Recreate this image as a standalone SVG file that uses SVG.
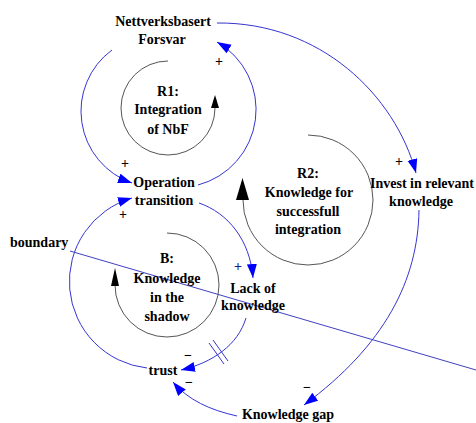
<svg xmlns="http://www.w3.org/2000/svg" width="476" height="423" viewBox="0 0 476 423">
  <style>
    .lbl { font-family: "Liberation Serif", "DejaVu Serif", serif; font-weight: bold; font-size: 14px; fill: #000; text-anchor: middle; }
    .sign { font-family: "Liberation Serif", "DejaVu Serif", serif; font-weight: bold; font-size: 14px; fill: #000; text-anchor: middle; }
    .link { fill: none; stroke: #3535d0; stroke-width: 1; marker-end: url(#arrow); }
    .loop { fill: none; stroke: #555; stroke-width: 1; }
    .head { fill: #000; }
  </style>
  <defs>
    <marker id="arrow" markerUnits="userSpaceOnUse" markerWidth="15" markerHeight="11" refX="14" refY="5" orient="auto">
      <path d="M0,0 L14,5 L0,10 z" fill="#0000ff"/>
    </marker>
  </defs>
  <rect width="476" height="423" fill="#fff"/>

  <!-- connectors -->
  <g id="connectors">
    <!-- Nettverksbasert Forsvar -> Invest in relevant knowledge -->
    <path class="link" d="M217,23 C320,22 395,95 416,173"/>
    <!-- Operation transition -> Nettverksbasert Forsvar -->
    <path class="link" d="M198,185 A78,78 0 0 0 217,42"/>
    <!-- Nettverksbasert Forsvar -> Operation transition -->
    <path class="link" d="M112,50 A76,76 0 0 0 132,183"/>
    <!-- trust -> Operation transition -->
    <path class="link" d="M147,368 A87,87 0 0 1 132,198"/>
    <!-- Operation transition -> Lack of knowledge -->
    <path class="link" d="M199,203 C228,213 250,240 253,278"/>
    <!-- Lack of knowledge -> trust (delayed) -->
    <path class="link" d="M246,318 C238,345 212,363 181,370"/>
    <!-- Knowledge gap -> trust -->
    <path class="link" d="M237,416 C210,410 188,400 173,382"/>
    <!-- Invest in relevant knowledge -> Knowledge gap -->
    <path class="link" d="M419,210 C418,280 385,345 304,405"/>
    <!-- delay marks -->
    <line x1="209" y1="343" x2="224" y2="364" stroke="#3535d0" stroke-width="1"/>
    <line x1="213" y1="340" x2="228" y2="361" stroke="#3535d0" stroke-width="1"/>
    <!-- boundary line -->
    <line x1="70" y1="251" x2="476" y2="370" stroke="#4040c0" stroke-width="1"/>
  </g>

  <!-- loop R1 -->
  <g id="loop-r1">
    <path class="loop" d="M168,61 A47,47 0 1 0 215,108"/>
    <polygon class="head" points="211,108 219,108 215,95"/>
    <text class="lbl" x="168" y="96">R1:</text>
    <text class="lbl" x="168" y="114">Integration</text>
    <text class="lbl" x="168" y="134">of NbF</text>
  </g>

  <!-- loop R2 -->
  <g id="loop-r2">
    <path class="loop" d="M308,135 A65,65 0 1 1 243,200"/>
    <polygon class="head" points="236,200 249,200 242.5,178"/>
    <text class="lbl" x="308" y="178">R2:</text>
    <text class="lbl" x="309" y="197">Knowledge for</text>
    <text class="lbl" x="308" y="216">successfull</text>
    <text class="lbl" x="308" y="234">integration</text>
  </g>

  <!-- loop B -->
  <g id="loop-b">
    <path class="loop" d="M167,233 A52,52 0 1 1 115,285"/>
    <polygon class="head" points="111,286 119,286 115,268"/>
    <text class="lbl" x="167" y="263">B:</text>
    <text class="lbl" x="167" y="283">Knowledge</text>
    <text class="lbl" x="167" y="302">in the</text>
    <text class="lbl" x="167" y="321">shadow</text>
  </g>

  <!-- variables -->
  <g id="nettverksbasert-forsvar">
    <text class="lbl" x="163" y="26">Nettverksbasert</text>
    <text class="lbl" x="162" y="44">Forsvar</text>
  </g>
  <g id="operation-transition">
    <text class="lbl" x="164" y="187">Operation</text>
    <text class="lbl" x="164" y="205">transition</text>
  </g>
  <g id="invest-in-relevant-knowledge">
    <text class="lbl" x="422" y="188">Invest in relevant</text>
    <text class="lbl" x="421" y="206">knowledge</text>
  </g>
  <g id="lack-of-knowledge">
    <text class="lbl" x="253" y="293">Lack of</text>
    <text class="lbl" x="253" y="310">knowledge</text>
  </g>
  <g id="trust">
    <text class="lbl" x="163" y="375">trust</text>
  </g>
  <g id="knowledge-gap">
    <text class="lbl" x="288" y="419">Knowledge gap</text>
  </g>
  <g id="boundary">
    <text class="lbl" x="10" y="247" style="text-anchor:start">boundary</text>
  </g>

  <!-- link polarities -->
  <g id="polarities">
    <text class="sign" x="219" y="66">+</text>
    <text class="sign" x="125" y="168">+</text>
    <text class="sign" x="123" y="219">+</text>
    <text class="sign" x="399" y="166">+</text>
    <text class="sign" x="238" y="271" style="fill:#1a1a8c">+</text>
    <text class="sign" x="188" y="360">−</text>
    <text class="sign" x="189" y="387">−</text>
    <text class="sign" x="307" y="392">−</text>
  </g>
</svg>
